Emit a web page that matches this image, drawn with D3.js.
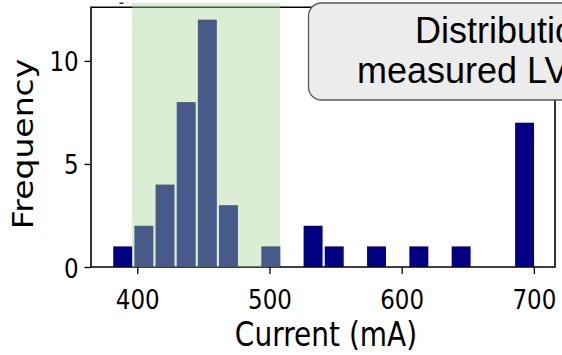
<!DOCTYPE html>
<html>
<head>
<meta charset="utf-8">
<script src="https://cdn.jsdelivr.net/npm/d3@7"></script>
<style>
    html, body { margin: 0; padding: 0; background: #fff; }
    svg { display: block; }
</style>
</head>
<body>
<div id="stage"></div>
<script>
// histogram bins (mA), left edge of each bin
var bin_lefts = [381, 397, 413, 429, 445, 461, 477, 493, 509, 525,
                 541, 557, 573, 589, 605, 621, 637, 653, 669, 685];
var bin_width = 16;
var counts = [1, 2, 4, 8, 12, 3, 0, 1, 0, 2,
              1, 0, 1, 0, 1, 0, 1, 0, 0, 7];
var x_ticks = [400, 500, 600, 700];
var y_ticks = [0, 5, 10];
var span_range = [396, 508];
var box_lines = ['Distribution of', 'measured LVDS current'];

var width = 562, height = 355;
var margin = {left: 91, right: 7, top: 7.3, bottom: 88};
var stretch = 1.18;   // source picture is squashed horizontally

var svg = d3.select('#stage').append('svg')
    .attr('width', width)
    .attr('height', height);

var x = d3.scaleLinear().domain([365, 716]).range([margin.left, width - margin.right]);
var y = d3.scaleLinear().domain([0, 12.6]).range([height - margin.bottom, margin.top]);

// bars
svg.append('g').selectAll('rect')
    .data(counts.map(function (c, i) { return {x0: bin_lefts[i], n: c}; })
        .filter(function (d) { return d.n > 0; }))
    .enter()
    .append('rect')
    .attr('x', function (d) { return x(d.x0) + 1.1; })
    .attr('width', function (d) { return x(d.x0 + bin_width) - x(d.x0) - 2.2; })
    .attr('y', function (d) { return y(d.n); })
    .attr('height', function (d) { return y(0) - y(d.n); })
    .attr('fill', '#000080');

// spines
var x0 = x.range()[0], x1 = x.range()[1], y0 = y.range()[0], y1 = y.range()[1];
svg.append('path')
    .attr('d', 'M' + x0 + ',' + y1 + 'H' + x1 + 'V' + y0 + 'H' + x0 + 'Z')
    .attr('fill', 'none')
    .attr('stroke', '#000')
    .attr('stroke-width', 1.6);

// axes
var x_axis = svg.append('g')
    .attr('transform', 'translate(0,' + y0 + ')')
    .call(d3.axisBottom(x).tickValues(x_ticks).tickSize(7).tickSizeOuter(0));
var y_axis = svg.append('g')
    .attr('transform', 'translate(' + x0 + ',0)')
    .call(d3.axisLeft(y).tickValues(y_ticks).tickSize(6.5).tickSizeOuter(0));
svg.selectAll('.domain').remove();
svg.selectAll('.tick line').attr('stroke', '#000').attr('stroke-width', 1.3);

x_axis.selectAll('.tick text')
    .attr('y', null).attr('dy', null)
    .attr('transform', 'translate(0,42) scale(1,' + stretch + ')')
    .attr('font-family', 'DejaVu Sans')
    .attr('font-size', 23)
    .attr('fill', '#000');
y_axis.selectAll('.tick text')
    .attr('x', null).attr('dy', null)
    .attr('transform', 'translate(-12.3,10) scale(1,' + stretch + ')')
    .attr('font-family', 'DejaVu Sans')
    .attr('font-size', 23)
    .attr('fill', '#000');

// axis titles
svg.append('text')
    .attr('transform', 'translate(' + ((x0 + x1) / 2 + 3) + ',346) scale(1,' + stretch + ')')
    .attr('text-anchor', 'middle')
    .attr('font-family', 'DejaVu Sans')
    .attr('font-size', 28)
    .text('Current (mA)');
svg.append('text')
    .attr('transform', 'translate(33.3,144) scale(1,' + stretch + ') rotate(-90)')
    .attr('text-anchor', 'middle')
    .attr('font-family', 'DejaVu Sans')
    .attr('font-size', 28)
    .text('Frequency');

// shaded range, drawn over the bars
svg.append('rect')
    .attr('x', x(span_range[0]))
    .attr('width', x(span_range[1]) - x(span_range[0]))
    .attr('y', 3)
    .attr('height', y0 - 3)
    .attr('fill', 'rgb(170,215,150)')
    .attr('fill-opacity', 0.42);

// small leftover mark at the top edge
svg.append('rect')
    .attr('x', 119.5).attr('y', 2.5).attr('width', 4).attr('height', 1.5)
    .attr('fill', '#333');

// callout box
var box = svg.append('g');
box.append('rect')
    .attr('x', 308.5).attr('y', 3)
    .attr('width', 300).attr('height', 97)
    .attr('rx', 13).attr('ry', 13)
    .attr('fill', '#ececec')
    .attr('stroke', '#5a5a5a')
    .attr('stroke-width', 1.3);
box.selectAll('text')
    .data(box_lines)
    .enter()
    .append('text')
    .attr('x', function (d, i) { return i == 0 ? 415 : 357; })
    .attr('y', function (d, i) { return i == 0 ? 43.3 : 83.3; })
    .attr('font-family', 'Liberation Sans, Arial, sans-serif')
    .attr('font-size', 36)
    .attr('fill', '#000')
    .text(function (d) { return d; });
</script>
</body>
</html>
